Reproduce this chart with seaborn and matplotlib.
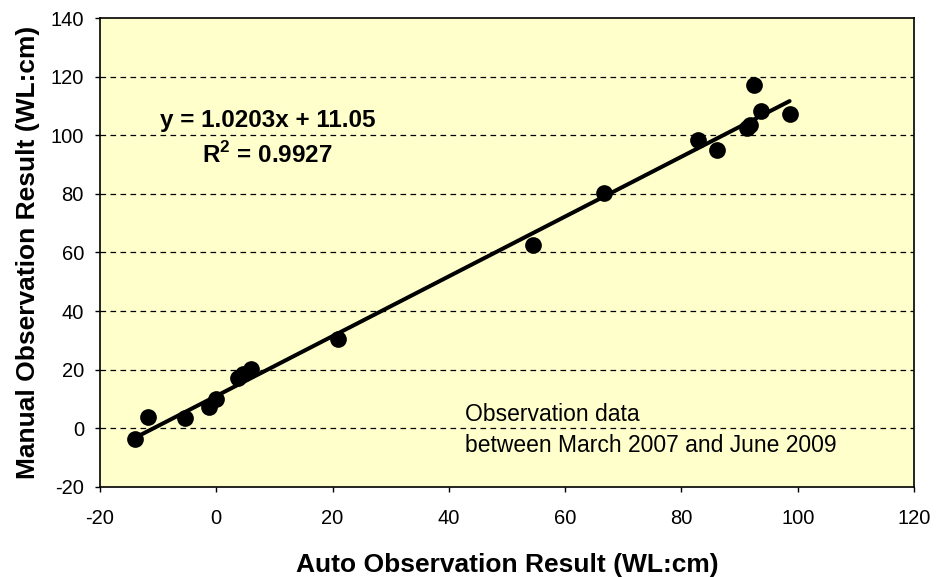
import matplotlib
matplotlib.use("Agg")
import matplotlib.pyplot as plt
import seaborn as sns
import numpy as np
import pandas as pd

auto_obs = [-14.0, -11.7, -5.4, -1.3, -0.1, 3.8, 4.6, 5.9, 21.0, 54.5, 66.7, 82.8, 86.2, 91.2, 91.8, 92.5, 93.6, 98.6]
manual_obs = [-3.7, 3.8, 3.4, 7.2, 10.0, 17.2, 18.4, 20.2, 30.5, 62.6, 80.2, 98.4, 95.0, 102.4, 103.5, 117.2, 108.4, 107.3]
slope = 1.0203
intercept = 11.05
r_squared = 0.9927
x_ticks = [-20, 0, 20, 40, 60, 80, 100, 120]
y_ticks = [-20, 0, 20, 40, 60, 80, 100, 120, 140]

sns.set_style("ticks")
plt.rcParams['font.family'] = ['Liberation Sans', 'DejaVu Sans']
plt.rcParams['axes.unicode_minus'] = False
plt.rcParams['text.color'] = 'black'
plt.rcParams['axes.labelcolor'] = 'black'
plt.rcParams['xtick.color'] = 'black'
plt.rcParams['ytick.color'] = 'black'
plt.rcParams['mathtext.fontset'] = 'custom'
plt.rcParams['mathtext.rm'] = 'Liberation Sans'
plt.rcParams['mathtext.bf'] = 'Liberation Sans:bold'

df = pd.DataFrame({"auto": auto_obs, "manual": manual_obs})
xfit = np.array([min(auto_obs), max(auto_obs)])
fit = pd.DataFrame({"x": xfit, "y": slope * xfit + intercept})

fig = plt.figure(figsize=(9.36, 5.77), dpi=100)
ax = fig.add_axes([100/936, 1 - 487/577, (914-100)/936, (487-18)/577])
ax.set_facecolor("#FFFFCC")

for yv in y_ticks[1:-1]:
    ax.axhline(yv, color="black", linestyle=(0, (4.5, 3.5)), linewidth=0.9, zorder=1)

sns.lineplot(data=fit, x="x", y="y", ax=ax, color="black", linewidth=2.9, zorder=3)
sns.scatterplot(data=df, x="auto", y="manual", ax=ax, color="black", s=145,
                edgecolor="black", linewidth=0, zorder=4)

ax.set_xlim(-20, 120)
ax.set_ylim(-20, 140)
ax.set_xticks(x_ticks)
ax.set_yticks(y_ticks)
ax.tick_params(axis="both", direction="out", length=3.6, width=1, labelsize=14.5, colors="black")
ax.tick_params(axis="x", pad=12)
ax.tick_params(axis="y", pad=8)
for sp in ax.spines.values():
    sp.set_color("black")
    sp.set_linewidth(1.2)

ax.set_xlabel("Auto Observation Result (WL:cm)", fontsize=19, fontweight="bold")
ax.set_ylabel("Manual Observation Result (WL:cm)", fontsize=19, fontweight="bold")
ax.xaxis.set_label_coords(0.5, -0.14)
ax.yaxis.set_label_coords(-0.074, 0.5)

ax.text(8.8, 102.8, f"y = {slope}x + {intercept}", fontsize=17.5, fontweight="bold",
        ha="center", va="baseline", zorder=5)
ax.text(8.7, 90.5, f"R$^\\mathbf{{2}}$ = {r_squared}", fontsize=17.5, fontweight="bold",
        ha="center", va="baseline", zorder=5)

ax.text(42.8, 2.5, "Observation data", fontsize=16.5, ha="left", va="baseline", zorder=5)
ax.text(42.8, -7.9, "between March 2007 and June 2009", fontsize=16.5, ha="left", va="baseline", zorder=5)

fig.savefig("out.png", dpi=100)
